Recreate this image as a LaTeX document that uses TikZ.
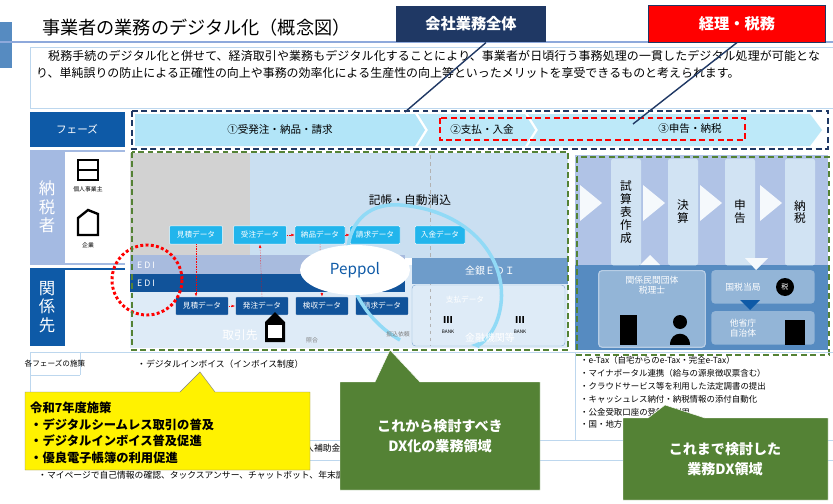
\documentclass[tikz,border=0pt]{standalone}
\usepackage{fontspec}
\setmainfont{Noto Sans CJK JP}
\XeTeXlinebreaklocale "ja"
\XeTeXlinebreakskip=0pt plus 1pt
\usetikzlibrary{shapes.geometric,arrows.meta}
\definecolor{navy}{HTML}{1F3864}
\definecolor{gbox}{HTML}{548235}
\definecolor{dblue}{HTML}{0E5AA7}
\definecolor{cyanb}{HTML}{22B5EC}
\definecolor{lblue}{HTML}{BDD7EE}
\definecolor{mblue}{HTML}{8EA9DB}
\tikzset{
 px/.style={x=0.03cm,y=-0.03cm},
 t/.style={font=\fontsize{8}{9}\selectfont,inner sep=0pt},
 dtop/.style={fill=cyanb,draw=white,rounded corners=1pt,text=white,font=\fontsize{6.5}{7}\selectfont,minimum height=0.55cm,inner sep=1pt},
 dbot/.style={fill=dblue!80!navy,draw=white,rounded corners=1pt,text=white,font=\fontsize{6.5}{7}\selectfont,minimum height=0.55cm,inner sep=1pt},
 gcall/.style={text=white,font=\bfseries\fontsize{12}{17}\selectfont,align=center},
 stepbox/.style={fill=lblue!70!white,rounded corners=2pt,font=\fontsize{10}{11}\selectfont,align=center,inner sep=1pt},
 redda/.style={draw=red,line width=1.6pt,dash pattern=on 5pt off 3pt},
 navyda/.style={draw=navy,line width=1.6pt,dash pattern=on 5pt off 3pt},
 greenda/.style={draw=gbox,line width=1.6pt,dash pattern=on 5pt off 3pt},
 vtxt/.style={align=center,font=\fontsize{14}{16}\selectfont,text=white},
 ib/.style={fill=dblue!45,rounded corners=3pt,anchor=north},
}
\begin{document}
\begin{tikzpicture}[px]
\useasboundingbox (0,0) rectangle (833,504);
\fill[white] (0,0) rectangle (833,504);
% title
\fill[dblue!70] (0,22) rectangle (12,68);
\draw[mblue,line width=1pt] (0,42) -- (833,42);
\node[anchor=west,font=\fontsize{15.5}{17}\selectfont] (title) at (38,28) {事業者の業務のデジタル化（概念図）};
% description
\draw[lblue,line width=0.8pt] (30,47) rectangle (833,108);
\node[anchor=north west,align=left,font=\fontsize{10.2}{14.6}\selectfont,text width=23.6cm,inner sep=0pt] (desc) at (36,50) {\hspace*{1em}税務手続のデジタル化と併せて、経済取引や業務もデジタル化することにより、事業者が日頃行う事務処理の一貫したデジタル処理が可能となり、単純誤りの防止による正確性の向上や事務の効率化による生産性の向上等といったメリットを享受できるものと考えられます。};
% phase row
\fill[dblue] (30,112) rectangle (125,147);
\node[t,text=white,font=\fontsize{9}{10}\selectfont] (fz) at (77,129) {フェーズ};
\fill[cyanb!35] (135,114) -- (415,114) -- (425,130) -- (415,146) -- (135,146) -- cycle;
\fill[cyanb!30] (418,114) -- (525,114) -- (535,130) -- (525,146) -- (418,146) -- (428,130) -- cycle;
\fill[cyanb!30] (528,114) -- (810,114) -- (822,130) -- (810,146) -- (528,146) -- (538,130) -- cycle;
\node[t,font=\fontsize{9}{10}\selectfont] (p1) at (280,129) {①受発注・納品・請求};
\node[t,font=\fontsize{9}{10}\selectfont] (p2) at (482,129) {②支払・入金};
\node[t,font=\fontsize{9}{10}\selectfont] (p3) at (690,129) {③申告・納税};
\draw[navyda] (132,111) rectangle (828,149);
\draw[redda] (440,118) rectangle (745,140);
% callouts top
\node[fill=navy,text=white,minimum width=4.5cm,minimum height=1.1cm,font=\bfseries\fontsize{13}{14}\selectfont] (cw) at (471,24) {会社業務全体};
\node[fill=red,draw=navy,text=white,minimum width=5.3cm,minimum height=1.1cm,font=\bfseries\fontsize{13}{14}\selectfont] (kz) at (737,24) {経理・税務};
\coordinate (cwp) at (405,112);
\coordinate (kzp) at (633,124);
\draw[navy,line width=1.2pt] (cw.south) ++(15,0) -- (cwp);
\draw[navy,line width=1.2pt] (kz.south) -- (kzp);
% left labels
\fill[mblue!80] (30,150) rectangle (125,265);
\fill[white] (65,152) rectangle (125,263);
\node[vtxt] (nz) at (47,207) {納\\税\\者};
\fill[dblue] (30,268) rectangle (125,346);
\fill[white] (65,270) rectangle (125,346);
\node[vtxt] (kk) at (47,307) {関\\係\\先};
\draw[line width=2pt] (78,160) rectangle (98,180); \draw[line width=1.5pt] (78,170)--(98,170);
\node[t,font=\fontsize{5}{6}\selectfont] (kojin) at (88,189) {個人事業主};
\draw[line width=2pt] (78,235) -- (78,218) -- (88,210) -- (98,214) -- (98,235) -- cycle;
\node[t,font=\fontsize{5}{6}\selectfont] (kigyo) at (88,245) {企業};
% left main panels
\fill[gray!35] (130,153) rectangle (250,265);
\fill[lblue!80] (250,153) rectangle (568,258);
\fill[lblue!50] (130,265) rectangle (568,348);
\draw[gray!60,dashed] (430,155) -- (430,345);
\node[t,font=\fontsize{10}{11}\selectfont] (kicho) at (410,200) {記帳・自動消込};
\node[dtop,minimum width=1.6cm] (m1) at (196,235) {見積データ};
\node[dtop,minimum width=1.6cm] (m2) at (260,235) {受注データ};
\node[dtop,minimum width=1.5cm] (m3) at (320,235) {納品データ};
\node[dtop,minimum width=1.5cm] (m4) at (375,235) {請求データ};
\node[dtop,minimum width=1.5cm] (m5) at (440,235) {入金データ};
\fill[mblue!90!navy!70] (130,255) rectangle (405,274);
\fill[dblue!80!navy] (130,274) rectangle (405,292);
\node[t,text=white,anchor=west,font=\fontsize{7.5}{8}\selectfont] (edi1) at (137,265) {E D I};
\node[t,text=white,anchor=west,font=\fontsize{7.5}{8}\selectfont] (edi2) at (137,283) {E D I};
\fill[dblue!60] (412,258) rectangle (568,284);
\node[t,text=white,font=\fontsize{8.5}{9}\selectfont] (zg) at (490,271) {全銀ＥＤＩ};
\draw[dblue!50,rounded corners=3pt] (412,285) rectangle (565,346);
\node[dbot,minimum width=1.6cm] (b1) at (202,306) {見積データ};
\node[dbot,minimum width=1.6cm] (b2) at (262,306) {発注データ};
\node[dbot,minimum width=1.6cm] (b3) at (322,306) {検収データ};
\node[dbot,minimum width=1.6cm] (b4) at (382,306) {請求データ};
\draw[red,densely dotted,-{Latex[length=3pt]}] (m1) -- (b1.north west -| m1);
\draw[red,densely dotted,-{Latex[length=3pt]}] (b1) -- (b2);
\draw[red,densely dotted,-{Latex[length=3pt]}] (b2.north) -- (m2.south);
\draw[red,densely dotted,-{Latex[length=3pt]}] (m2) -- (m3);
\draw[red,densely dotted,-{Latex[length=3pt]}] (m3) -- (m4);
\draw[red,densely dotted,-{Latex[length=3pt]}] (m3.south) -- (b3.north);
\draw[cyanb!50,line width=3pt,-{Latex[length=8pt]}] (400,340) .. controls (330,300) and (330,200) .. (400,205) .. controls (470,210) and (510,260) .. (500,310) .. controls (495,335) and (480,345) .. (470,345);
\node[ellipse,fill=white,minimum width=3.3cm,minimum height=1.5cm,font=\fontsize{13}{14}\selectfont,text=dblue] (pep) at (355,270) {Peppol};
\node[t,font=\fontsize{10}{11}\selectfont,text=white] (tori) at (240,335) {取引先};
\fill (265,342) -- (265,322) -- (275,312) -- (285,322) -- (285,342) -- cycle;
\fill[white] (268,338) rectangle (282,325);
\node[t,font=\fontsize{5}{6}\selectfont,text=gray] (sho) at (312,340) {照合};
\node[t,font=\fontsize{5}{6}\selectfont,text=gray] (furi) at (398,334) {振込依頼};
\node[t,font=\fontsize{6.5}{7}\selectfont,text=white] (shi) at (465,300) {支払データ};
\node[t,font=\bfseries\fontsize{8}{8}\selectfont] (bk1) at (448,320) {III};
\node[t,font=\fontsize{4}{5}\selectfont] (bk1b) at (448,332) {BANK};
\node[t,font=\bfseries\fontsize{8}{8}\selectfont] (bk2) at (520,320) {III};
\node[t,font=\fontsize{4}{5}\selectfont] (bk2b) at (520,332) {BANK};
\node[t,font=\fontsize{8.5}{9}\selectfont,text=white] (kin) at (490,338) {金融機関等};
\draw[red,line width=2.5pt,dotted] (147,280) circle (35);
\draw[greenda] (132,152) rectangle (568,350);
% right panel
\fill[mblue!70] (575,155) rectangle (828,265);
\fill[dblue!70] (575,265) rectangle (828,350);
\node[stepbox,minimum width=0.9cm,minimum height=3.2cm] (s1) at (626,212) {試\\算\\表\\作\\成};
\node[stepbox,minimum width=0.9cm,minimum height=3.2cm] (s2) at (683,212) {決\\算};
\node[stepbox,minimum width=0.9cm,minimum height=3.2cm] (s3) at (740,212) {申\\告};
\node[stepbox,minimum width=0.9cm,minimum height=3.2cm] (s4) at (800,212) {納\\税};
\foreach \xx in {580,643,700,760} \fill[white!85!lblue] (\xx,185) -- (\xx+22,203) -- (\xx,221) -- cycle;
\node[ib,draw=white!70!dblue,line width=1pt,minimum width=3.2cm,minimum height=2.3cm] (zr) at (652,270) {};
\node[t,text=white,align=center,font=\fontsize{7.5}{9}\selectfont] (zrt) at (652,285) {関係民間団体\\税理士};
\node[ib,minimum width=3.1cm,minimum height=1.0cm] (kz2) at (763,270) {};
\node[t,text=white,font=\fontsize{7.5}{8}\selectfont] (kzt) at (743,287) {国税当局};
\node[ib,minimum width=3.1cm,minimum height=1.0cm] (ta) at (763,311) {};
\node[t,text=white,align=center,font=\fontsize{7.5}{9}\selectfont] (tat) at (743,328) {他省庁\\自治体};
\fill[white!85!lblue] (640,265) -- (650,255) -- (660,265) -- cycle;
\fill[white!85!lblue] (745,258) -- (768,258) -- (756,270) -- cycle;
\fill[dblue] (740,300) -- (760,300) -- (750,310) -- cycle;
\fill (620,315) rectangle (637,345);
\fill (670,345) .. controls (670,330) and (690,330) .. (690,345) -- cycle;
\fill (680,322) circle (7);
\fill (785,287) circle (9);
\node[t,text=white,font=\fontsize{6}{7}\selectfont] (zei) at (785,287) {税};
\fill (785,320) rectangle (805,345);
\draw[greenda] (577,157) rectangle (829,355);
% bottom table
\draw[lblue,line width=0.8pt] (30,352) rectangle (833,460);
\draw[lblue] (80,352) -- (80,375) (30,375)--(80,375) (575,352) -- (575,440) (30,440)--(833,440);
\node[t,font=\fontsize{6.5}{7}\selectfont] (kaku) at (55,364) {各フェーズの施策};
\node[t,anchor=west,font=\fontsize{7.5}{8}\selectfont] (di) at (137,364) {・デジタルインボイス（インボイス制度）};
\node[anchor=north west,align=left,inner sep=0pt,font=\fontsize{7.2}{11}\selectfont] (rl) at (580,356) {・e-Tax（自宅からのe-Tax・完全e-Tax）\\・マイナポータル連携（給与の源泉徴収票含む）\\・クラウドサービス等を利用した法定調書の提出\\・キャッシュレス納付・納税情報の添付自動化\\・公金受取口座の登録・利用\\・国・地方のデータ連携};
\node[t,anchor=west,font=\fontsize{7.5}{8}\selectfont] (hj) at (305,448) {入補助金};
\node[t,anchor=west,font=\fontsize{7.5}{8}\selectfont] (mp) at (38,475) {・マイページで自己情報の確認、タックスアンサー、チャットボット、年末調整の電子化、マイナンバーカード取得促進};
% yellow callout
\coordinate (yp) at (200,372);
\fill[yellow,draw=gray] (25,392) -- (180,392) -- (yp) -- (215,392) -- (310,392) -- (310,470) -- (25,470) -- cycle;
\node[anchor=north west,align=left,inner sep=0pt,font=\bfseries\fontsize{10.5}{14}\selectfont] (yt) at (30,402) {令和7年度施策\\・デジタルシームレス取引の普及\\・デジタルインボイス普及促進\\・優良電子帳簿の利用促進};
% green callouts
\coordinate (g1p) at (390,350);
\fill[gbox,draw=white] (340,382) -- (375,382) -- (g1p) -- (420,382) -- (540,382) -- (540,490) -- (340,490) -- cycle;
\node[gcall] (g1) at (440,436) {これから検討すべき\\DX化の業務領域};
\coordinate (g2p) at (665,405);
\fill[gbox,draw=white] (623,418) -- (648,418) -- (g2p) -- (705,418) -- (828,418) -- (828,500) -- (623,500) -- cycle;
\node[gcall] (g2) at (725,459) {これまで検討した\\業務DX領域};
\end{tikzpicture}
\end{document}
